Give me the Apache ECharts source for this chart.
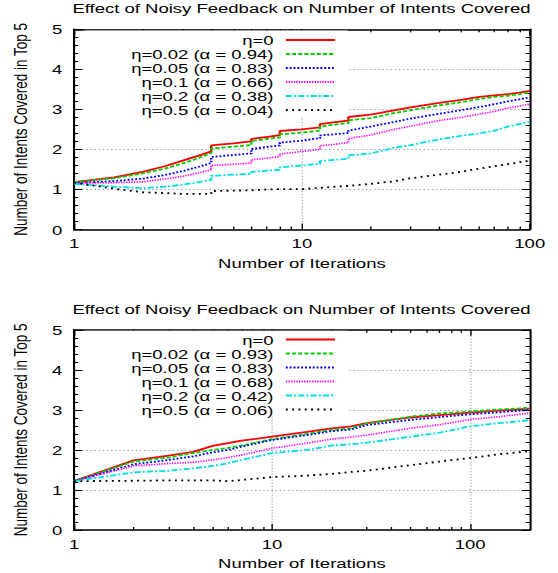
<!DOCTYPE html>
<html>
<head>
<meta charset="utf-8">
<script src="https://cdn.jsdelivr.net/npm/echarts@6.0.0/dist/echarts.min.js"></script>
<style>
html,body{margin:0;padding:0;background:#fff;overflow:hidden;}
#wrap{width:558px;height:573px;overflow:hidden;}
#c{width:407px;height:573px;transform:scaleX(1.371);transform-origin:0 0;}
</style>
</head>
<body>
<div id="wrap"><div id="c"></div></div>
<script>
// ---------- data ----------
const chartTitle = 'Effect of Noisy Feedback on Number of Intents Covered';
const xAxisName = 'Number of Iterations';
const yAxisName = 'Number of Intents Covered in Top 5';
const xTickLabels = [1, 10, 100];
const xMinorTicks = [2, 3, 4, 5, 6, 7, 8, 9, 20, 30, 40, 50, 60, 70, 80, 90];

// top panel
const topNames = ['η=0', 'η=0.02 (α = 0.94)', 'η=0.05 (α = 0.83)', 'η=0.1 (α = 0.66)', 'η=0.2 (α = 0.38)', 'η=0.5 (α = 0.04)'];
const topIterations = [1, 1.5, 2, 2.5, 3, 3.5, 4, 4, 5, 6, 6, 7, 8, 8, 10, 12, 12, 14, 16, 16, 20, 25, 30, 40, 50, 60, 70, 80, 90, 100];
const topEta0    = [1.18,1.30,1.44,1.58,1.72,1.84,1.95,2.10,2.15,2.20,2.26,2.31,2.36,2.46,2.50,2.55,2.63,2.68,2.72,2.81,2.87,2.97,3.05,3.16,3.24,3.31,3.35,3.38,3.42,3.46];
const topEta002  = [1.18,1.28,1.40,1.52,1.65,1.78,1.91,2.02,2.07,2.11,2.21,2.26,2.30,2.38,2.42,2.47,2.57,2.62,2.66,2.73,2.78,2.90,2.98,3.10,3.18,3.26,3.31,3.34,3.38,3.42];
const topEta005  = [1.16,1.21,1.27,1.36,1.46,1.56,1.66,1.81,1.86,1.90,2.01,2.06,2.10,2.17,2.22,2.28,2.35,2.38,2.41,2.47,2.57,2.68,2.77,2.89,2.98,3.06,3.13,3.20,3.25,3.30];
const topEta01   = [1.16,1.17,1.19,1.26,1.33,1.41,1.49,1.60,1.63,1.66,1.74,1.78,1.82,1.88,1.95,2.00,2.09,2.13,2.17,2.27,2.36,2.49,2.58,2.72,2.80,2.88,2.95,3.03,3.08,3.13];
const topEta02   = [1.14,1.07,1.03,1.07,1.12,1.18,1.24,1.34,1.37,1.39,1.44,1.47,1.49,1.55,1.60,1.64,1.71,1.74,1.77,1.85,1.90,2.03,2.11,2.25,2.34,2.40,2.47,2.57,2.63,2.69];
const topEta05   = [1.17,1.02,0.93,0.91,0.89,0.89,0.89,0.96,0.97,0.98,0.98,1.00,1.01,1.01,1.01,1.04,1.05,1.07,1.09,1.10,1.14,1.20,1.28,1.37,1.44,1.52,1.58,1.63,1.68,1.72];

// bottom panel
const bottomNames = ['η=0', 'η=0.02 (α = 0.93)', 'η=0.05 (α = 0.83)', 'η=0.1 (α = 0.68)', 'η=0.2 (α = 0.42)', 'η=0.5 (α = 0.06)'];
const bottomIterations = [1, 2, 3, 4, 5, 6, 7, 10, 15, 20, 25, 30, 50, 70, 100, 140, 200];
const botEta0    = [1.22,1.74,1.86,1.95,2.10,2.17,2.23,2.33,2.45,2.54,2.59,2.67,2.81,2.87,2.93,2.98,3.03];
const botEta002  = [1.22,1.71,1.81,1.92,2.00,2.05,2.11,2.27,2.40,2.50,2.54,2.66,2.83,2.91,2.96,3.01,3.05];
const botEta005  = [1.22,1.64,1.75,1.84,1.94,2.00,2.08,2.25,2.37,2.47,2.51,2.62,2.75,2.82,2.89,2.94,3.00];
const botEta01   = [1.22,1.60,1.66,1.69,1.75,1.81,1.87,2.04,2.17,2.27,2.32,2.37,2.54,2.63,2.76,2.83,2.92];
const botEta02   = [1.22,1.44,1.48,1.54,1.60,1.67,1.75,1.92,2.00,2.11,2.14,2.18,2.33,2.43,2.59,2.67,2.74];
const botEta05   = [1.22,1.23,1.24,1.24,1.24,1.22,1.25,1.32,1.36,1.40,1.45,1.48,1.62,1.71,1.80,1.89,1.97];

// ---------- styles ----------
const FONT = 'Liberation Sans';
const FS = 13.5;
const lineStyles = [
  {color: '#ff0000', width: 1.8, type: 'solid'},
  {color: '#00d000', width: 1.8, type: [3, 1.5]},
  {color: '#0000ff', width: 1.8, type: [1.4, 1.4]},
  {color: '#ff00ff', width: 1.6, type: [1, 0.9]},
  {color: '#00e0e0', width: 1.8, type: [4.5, 1.5, 1.5, 1.5]},
  {color: '#000000', width: 1.8, type: [1.4, 3.2]}
];

const panels = [
  {top: 29.3, xmax: 100, names: topNames, xs: topIterations,
   ys: [topEta0, topEta002, topEta005, topEta01, topEta02, topEta05],
   titleTop: 1.3, legendTop: 30.4, legendPadTop: 2.6},
  {top: 329.8, xmax: 200, names: bottomNames, xs: bottomIterations,
   ys: [botEta0, botEta002, botEta005, botEta01, botEta02, botEta05],
   titleTop: 301.8, legendTop: 330.8, legendPadTop: 1.7}
];

const GRID_LEFT = 53.6, GRID_W = 332.8, GRID_H = 200.2;
const textBase = {fontFamily: FONT, fontSize: FS, color: '#000'};

const option = {
  animation: false,
  backgroundColor: '#fff',
  title: [], grid: [], xAxis: [], yAxis: [], legend: [], series: []
};

panels.forEach((p, i) => {
  option.title.push({
    text: chartTitle, left: 219.9, top: p.titleTop, textAlign: 'center', padding: 0,
    textStyle: Object.assign({fontWeight: 'normal'}, textBase)
  });
  option.grid.push({left: GRID_LEFT, top: p.top, width: GRID_W, height: GRID_H, containLabel: false});

  const majorTick = {show: true, inside: true, length: 6, customValues: xTickLabels, lineStyle: {color: '#000', width: 1}};
  const minorTick = {show: true, inside: true, length: 3, customValues: xMinorTicks, lineStyle: {color: '#000', width: 1}};
  const baseX = {type: 'log', logBase: 10, gridIndex: i, min: 1, max: p.xmax};
  // bottom main
  option.xAxis.push(Object.assign({}, baseX, {
    position: 'bottom',
    axisLine: {show: true, lineStyle: {color: '#000', width: 1.5}},
    axisTick: majorTick,
    axisLabel: Object.assign({customValues: xTickLabels, margin: 6.5, showMaxLabel: true}, textBase),
    splitLine: {show: true, lineStyle: {color: '#9a9a9a', width: 1, type: [1, 2]}},
    name: xAxisName, nameLocation: 'middle', nameGap: 26,
    nameTextStyle: textBase
  }));
  // bottom minor
  option.xAxis.push(Object.assign({}, baseX, {
    position: 'bottom', axisLine: {show: false}, axisTick: minorTick,
    axisLabel: {show: false}, splitLine: {show: false}
  }));
  // top mirror main
  option.xAxis.push(Object.assign({}, baseX, {
    position: 'top',
    axisLine: {show: true, lineStyle: {color: '#000', width: 1.5}},
    axisTick: majorTick, axisLabel: {show: false}, splitLine: {show: false}
  }));
  // top mirror minor
  option.xAxis.push(Object.assign({}, baseX, {
    position: 'top', axisLine: {show: false}, axisTick: minorTick,
    axisLabel: {show: false}, splitLine: {show: false}
  }));

  const baseY = {type: 'value', gridIndex: i, min: 0, max: 5, interval: 1};
  option.yAxis.push(Object.assign({}, baseY, {
    position: 'left',
    axisLine: {show: true, lineStyle: {color: '#000', width: 1.5}},
    axisTick: {show: true, inside: true, length: 6, lineStyle: {color: '#000'}},
    minorTick: {show: true, splitNumber: 5, length: 3, lineStyle: {color: '#000'}},
    axisLabel: Object.assign({margin: 8.5}, textBase),
    splitLine: {show: true, lineStyle: {color: '#9a9a9a', width: 1, type: [1, 2]}},
    name: yAxisName, nameLocation: 'middle', nameGap: 32, nameRotate: 90,
    nameTextStyle: textBase
  }));
  option.yAxis.push(Object.assign({}, baseY, {
    position: 'right',
    axisLine: {show: true, lineStyle: {color: '#000', width: 1.5}},
    axisTick: {show: true, inside: true, length: 6, lineStyle: {color: '#000'}},
    minorTick: {show: true, splitNumber: 5, length: 3, lineStyle: {color: '#000'}},
    axisLabel: {show: false}, splitLine: {show: false}
  }));

  option.legend.push({
    orient: 'vertical', align: 'right', left: 62, top: p.legendTop,
    padding: [p.legendPadTop, 8.2, 0, 0], itemGap: 0, itemWidth: 35.8, itemHeight: 13.6,
    backgroundColor: '#fff', selectedMode: false, data: p.names,
    itemStyle: {opacity: 0, borderWidth: 0},
    textStyle: Object.assign({width: 137.5, lineHeight: 13.6, padding: [0, 4, 0, 0], overflow: 'none'}, textBase)
  });

  p.names.forEach((name, s) => {
    option.series.push({
      name: name, type: 'line', xAxisIndex: i * 4, yAxisIndex: i * 2,
      symbol: 'none', smooth: false, clip: true,
      lineStyle: lineStyles[s], itemStyle: {color: lineStyles[s].color},
      emphasis: {disabled: true},
      data: p.xs.map((x, k) => [x, p.ys[s][k]])
    });
  });
});

const chart = echarts.init(document.getElementById('c'), null, {renderer: 'svg'});
chart.setOption(option);
</script>
</body>
</html>
